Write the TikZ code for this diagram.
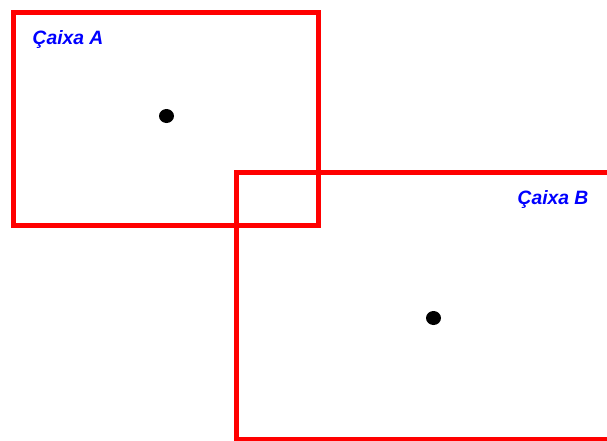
\documentclass[tikz,border=0pt]{standalone}
\usepackage{fontspec}
\setmainfont{Liberation Sans}
\usetikzlibrary{positioning}

\begin{document}
\begin{tikzpicture}[
  x=0.02cm, y=-0.02cm,
  caixa/.style={draw=red, line width=0.1cm},
  rotulo/.style={text=blue, font=\fontsize{11}{13}\selectfont\bfseries\itshape, inner sep=0pt},
  ponto/.style={fill=black, draw=none}
]
  \useasboundingbox (0,0) rectangle (607,440);
  \clip (0,0) rectangle (607,440);
  % caixas
  \draw[caixa] (13.5,12.5) rectangle (318.5,225.5);
  \draw[caixa] (236.5,172.5) rectangle (630,439);
  % rotulos
  \node[rotulo] (rotA) at (68,39.5) {Çaixa A};
  \node[rotulo] (rotB) at (553,199.5) {Çaixa B};
  % pontos
  \fill[ponto] (166.5,116) ellipse [x radius=7.5, y radius=7];
  \fill[ponto] (433.5,318) ellipse [x radius=7.5, y radius=7];
\end{tikzpicture}
\end{document}
